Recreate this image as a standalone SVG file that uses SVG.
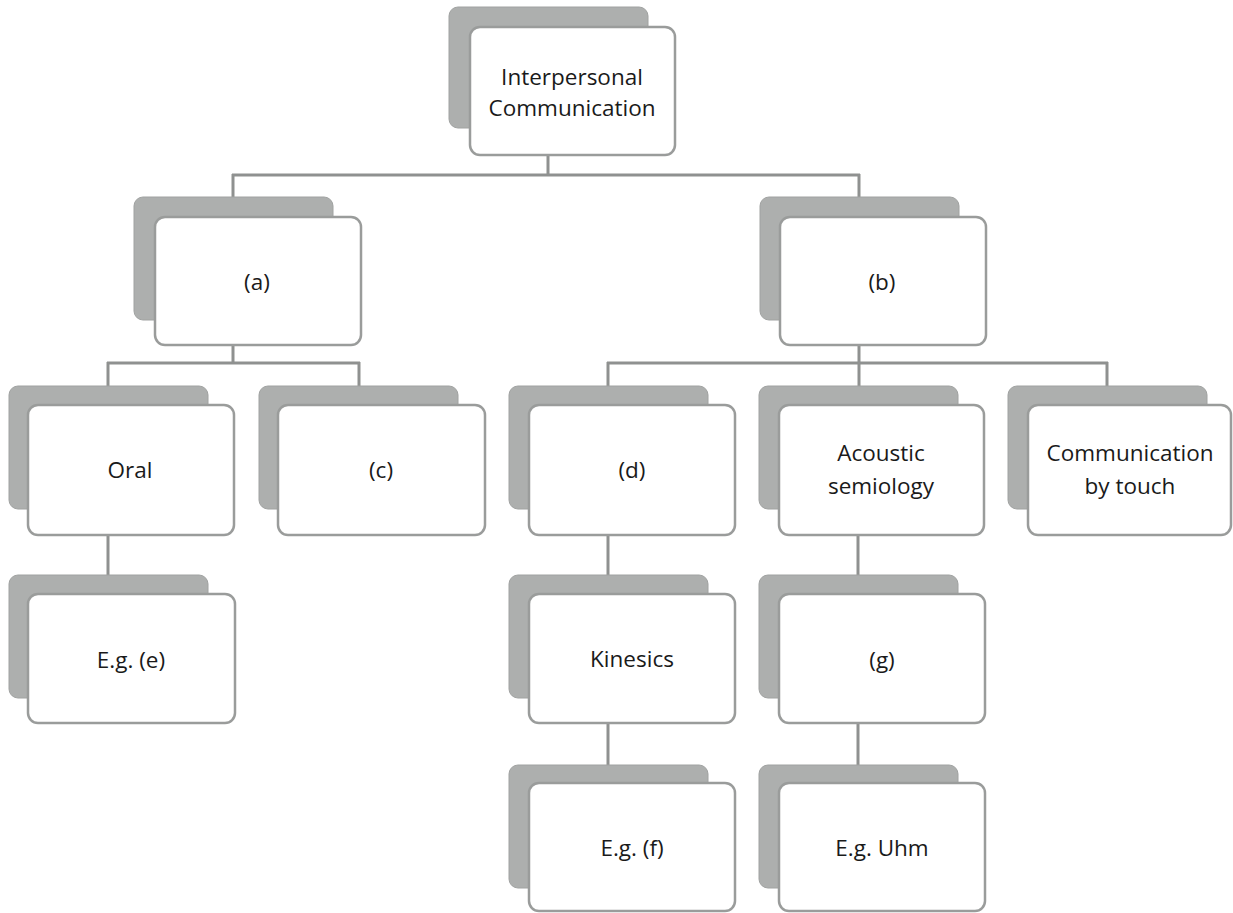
<svg xmlns="http://www.w3.org/2000/svg" width="1233" height="913" viewBox="0 0 1233 913">
<style>
.sh{fill:#adafae;stroke:#a0a2a1;stroke-width:1}
.bx{fill:#ffffff;stroke:#9a9c9b;stroke-width:2.5}
.t{font-family:"Open Sans","Noto Sans",sans-serif;font-size:22.5px;fill:#1a1a1a;text-anchor:middle;dominant-baseline:central}
.c{fill:none;stroke:#8f9190;stroke-width:3}
</style>
<rect width="1233" height="913" fill="#ffffff"/>
<g id="connectors">
<path class="c" d="M548,155V175M232,175H860M233,174V197M859,174V197"/>
<path class="c" d="M233,345V363M107,363H360M108,362V386M359,362V386"/>
<path class="c" d="M859,345V363M607,363H1108M608,362V386M859,362V386M1107,362V386"/>
<path class="c" d="M108,535V575M608,535V575M858,535V575M608,723V765M858,723V765"/>
</g>
<g id="n-top"><rect class="sh" x="449" y="7" width="199" height="121" rx="9"/><rect class="bx" x="470" y="27" width="205" height="128" rx="10"/><text class="t" x="572" y="76">Interpersonal</text><text class="t" x="572" y="107">Communication</text></g>
<g id="n-a"><rect class="sh" x="134" y="197" width="199" height="123" rx="9"/><rect class="bx" x="155" y="217" width="206" height="128" rx="10"/><text class="t" x="257" y="281">(a)</text></g>
<g id="n-b"><rect class="sh" x="760" y="197" width="199" height="123" rx="9"/><rect class="bx" x="780" y="217" width="206" height="128" rx="10"/><text class="t" x="882" y="281">(b)</text></g>
<g id="n-oral"><rect class="sh" x="9" y="386" width="199" height="123" rx="9"/><rect class="bx" x="28" y="405" width="206" height="130" rx="10"/><text class="t" x="130" y="469">Oral</text></g>
<g id="n-c"><rect class="sh" x="259" y="386" width="199" height="123" rx="9"/><rect class="bx" x="278" y="405" width="207" height="130" rx="10"/><text class="t" x="381" y="469">(c)</text></g>
<g id="n-d"><rect class="sh" x="509" y="386" width="199" height="123" rx="9"/><rect class="bx" x="529" y="405" width="206" height="130" rx="10"/><text class="t" x="632" y="469">(d)</text></g>
<g id="n-acoustic"><rect class="sh" x="759" y="386" width="199" height="123" rx="9"/><rect class="bx" x="779" y="405" width="205" height="130" rx="10"/><text class="t" x="881" y="452">Acoustic</text><text class="t" x="881" y="485">semiology</text></g>
<g id="n-touch"><rect class="sh" x="1008" y="386" width="199" height="123" rx="9"/><rect class="bx" x="1028" y="405" width="203" height="130" rx="10"/><text class="t" x="1130" y="452">Communication</text><text class="t" x="1130" y="485">by touch</text></g>
<g id="n-e"><rect class="sh" x="9" y="575" width="199" height="123" rx="9"/><rect class="bx" x="28" y="594" width="207" height="129" rx="10"/><text class="t" x="131" y="659">E.g. (e)</text></g>
<g id="n-kinesics"><rect class="sh" x="509" y="575" width="199" height="123" rx="9"/><rect class="bx" x="529" y="594" width="206" height="129" rx="10"/><text class="t" x="632" y="658">Kinesics</text></g>
<g id="n-g"><rect class="sh" x="759" y="575" width="199" height="123" rx="9"/><rect class="bx" x="779" y="594" width="206" height="129" rx="10"/><text class="t" x="882" y="659">(g)</text></g>
<g id="n-f"><rect class="sh" x="509" y="765" width="199" height="123" rx="9"/><rect class="bx" x="529" y="783" width="206" height="128" rx="10"/><text class="t" x="632" y="847">E.g. (f)</text></g>
<g id="n-uhm"><rect class="sh" x="759" y="765" width="199" height="123" rx="9"/><rect class="bx" x="779" y="783" width="206" height="128" rx="10"/><text class="t" x="882" y="847">E.g. Uhm</text></g>
</svg>
